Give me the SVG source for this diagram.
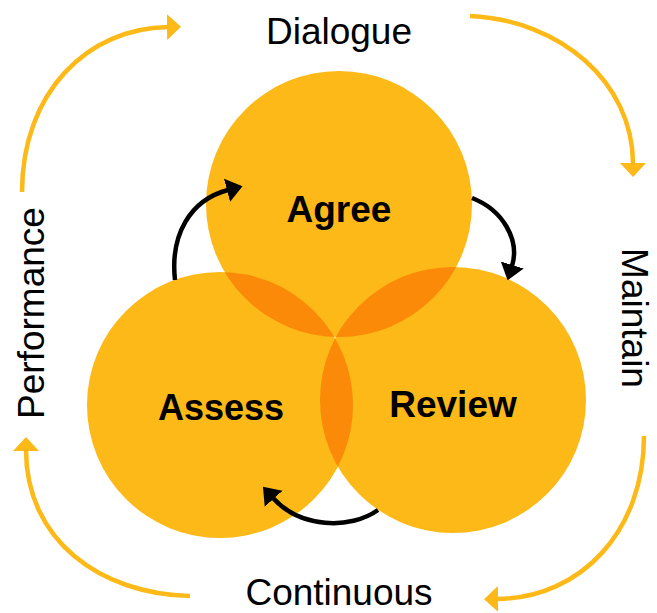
<svg xmlns="http://www.w3.org/2000/svg" width="657" height="613" viewBox="0 0 657 613">
  <style>
    .circle { fill: #FCB917; }
    .lens { fill: #FA8A07; }
    .label { font-family: "Liberation Sans", Arial, sans-serif; font-weight: bold; font-size: 35px; fill: #000; text-anchor: middle; }
    .outer { font-family: "Liberation Sans", Arial, sans-serif; font-size: 37px; fill: #000; text-anchor: middle; }
    .cycle { fill: none; stroke: #FCB917; stroke-width: 4.5; }
    .inner { fill: none; stroke: #000; stroke-width: 4.5; }
  </style>
  <defs>
    <clipPath id="clipAgree"><circle cx="339" cy="204" r="133"/></clipPath>
    <clipPath id="clipReview"><circle cx="453" cy="400" r="133"/></clipPath>
    <marker id="arrOrange" markerUnits="userSpaceOnUse" markerWidth="15" markerHeight="27" refX="1" refY="13" orient="auto">
      <path d="M0,0 L14,13 L0,26 z" fill="#FCB917"/>
    </marker>
    <marker id="arrBlack" markerUnits="userSpaceOnUse" markerWidth="17" markerHeight="25" refX="1" refY="12" orient="auto">
      <path d="M0,0 L16,12 L0,24 z" fill="#000"/>
    </marker>
  </defs>

  <g id="node-agree">
    <circle class="circle" cx="339" cy="204" r="133"/>
  </g>
  <g id="node-assess">
    <circle class="circle" cx="220" cy="405" r="133"/>
  </g>
  <g id="node-review">
    <circle class="circle" cx="453" cy="400" r="133"/>
  </g>
  <g id="overlaps">
    <circle class="lens" cx="220" cy="405" r="133" clip-path="url(#clipAgree)"/>
    <circle class="lens" cx="453" cy="400" r="133" clip-path="url(#clipAgree)"/>
    <circle class="lens" cx="220" cy="405" r="133" clip-path="url(#clipReview)"/>
  </g>

  <g id="labels">
    <text class="label" x="339" y="222" style="font-size:37px">Agree</text>
    <text class="label" x="221" y="420" style="font-size:36px">Assess</text>
    <text class="label" x="453" y="417" style="font-size:37px">Review</text>
  </g>

  <g id="outer-labels">
    <text id="dialogue" class="outer" x="339" y="44">Dialogue</text>
    <text id="continuous" class="outer" x="339" y="605">Continuous</text>
    <text id="performance" class="outer" transform="translate(44,313) rotate(-90)">Performance</text>
    <text id="maintain" class="outer" transform="translate(622,318) rotate(90)">Maintain</text>
  </g>

  <g id="connectors">
    <path class="cycle" d="M22,192 C22,92 88,28 168,27" marker-end="url(#arrOrange)"/>
    <path class="cycle" d="M470,16 C560,20 633,82 633,164" marker-end="url(#arrOrange)"/>
    <path class="cycle" d="M644,436 C644,530 582,598 497,599" marker-end="url(#arrOrange)"/>
    <path class="cycle" d="M190,596 C100,594 26,540 26,450" marker-end="url(#arrOrange)"/>
    <path class="inner" d="M175,280 C170,235 190,200 228,190" marker-end="url(#arrBlack)"/>
    <path class="inner" d="M472,198 C503,210 520,240 512,266" marker-end="url(#arrBlack)"/>
    <path class="inner" d="M378,510 C350,530 300,528 273,498" marker-end="url(#arrBlack)"/>
  </g>
</svg>
